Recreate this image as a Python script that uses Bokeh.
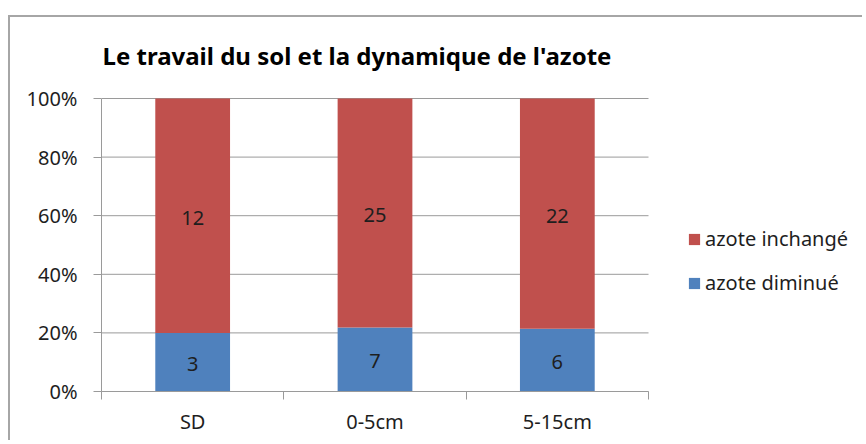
from bokeh.plotting import figure
from bokeh.models import (ColumnDataSource, FixedTicker, NumeralTickFormatter, Legend,
                          LegendItem, Range1d, Label)
from bokeh.core.properties import value
from bokeh.embed import file_html
from bokeh.resources import INLINE

# ---- data ----
categories = ["SD", "0-5cm", "5-15cm"]
azote_diminue = [3, 7, 6]
azote_inchange = [12, 25, 22]
series_names = ["azote diminué", "azote inchangé"]
y_ticks = [0, 0.2, 0.4, 0.6, 0.8, 1.0]
title_text = "Le travail du sol et la dynamique de l'azote"

RED = "#C0504D"
BLUE = "#4F81BD"
GRID = "#9a9a9a"
TXT = "#1e1e1e"
FONT = "Noto Sans"

# layout (pixels)
W, H = 854, 425
BL, BB = 91, 51            # left / bottom borders
PLOT_W, PLOT_H = 547, 293  # size of the category/percent area
FRAME_W, FRAME_H = W - BL, H - BB

n = len(categories)
xs = [i + 0.5 for i in range(n)]
tot = [a + b for a, b in zip(azote_diminue, azote_inchange)]
dim_f = [a / t for a, t in zip(azote_diminue, tot)]
inc_f = [b / t for b, t in zip(azote_inchange, tot)]

src = ColumnDataSource(dict(x=xs, dim=dim_f, inc=inc_f))

p = figure(width=W, height=H, output_backend="svg", toolbar_location=None,
           x_range=Range1d(0, n * FRAME_W / PLOT_W),
           y_range=Range1d(0, FRAME_H / PLOT_H),
           min_border_left=BL, min_border_right=0, min_border_top=0,
           min_border_bottom=BB, title_location=None)
p.margin = (15, 0, 0, 8)
p.styles = {"border-top": "2px solid #a6a6a6", "border-left": "2px solid #a6a6a6"}
p.outline_line_color = None
p.background_fill_color = "white"
p.border_fill_color = "white"

# horizontal gridlines over the category area
p.segment(x0=[0] * len(y_ticks), x1=[n] * len(y_ticks), y0=y_ticks, y1=y_ticks,
          line_color=GRID, line_width=1)

rs = p.vbar_stack(["dim", "inc"], x="x", width=0.41, source=src,
                  color=[BLUE, RED], line_color=None)

# data labels
lab_src = ColumnDataSource(dict(
    x=xs + xs,
    y=[d / 2 for d in dim_f] + [d + i / 2 for d, i in zip(dim_f, inc_f)],
    t=[str(v) for v in azote_diminue] + [str(v) for v in azote_inchange],
))
p.text(x="x", y="y", text="t", source=lab_src, text_align="center",
       text_baseline="middle", text_font=value(FONT), text_font_size="20px",
       text_color=TXT, y_offset=2)

# y axis
p.yaxis.bounds = (0, 1)
p.yaxis.ticker = FixedTicker(ticks=y_ticks)
p.yaxis.formatter = NumeralTickFormatter(format="0%")
p.yaxis.major_tick_out = 8
p.yaxis.major_tick_in = 0
p.yaxis.minor_tick_out = 0
p.yaxis.minor_tick_in = 0
p.yaxis.axis_line_color = GRID
p.yaxis.major_tick_line_color = GRID
p.yaxis.major_label_text_font = FONT
p.yaxis.major_label_text_font_size = "20px"
p.yaxis.major_label_text_color = TXT
p.yaxis.major_label_standoff = 16

# x axis: ticks at category boundaries (minor), labels at centers
p.xaxis.bounds = (0, n)
p.xaxis.ticker = FixedTicker(ticks=xs, minor_ticks=list(range(n + 1)))
p.xaxis.major_label_overrides = {x: c for x, c in zip(xs, categories)}
p.xaxis.major_tick_out = 0
p.xaxis.major_tick_in = 0
p.xaxis.minor_tick_out = 8
p.xaxis.minor_tick_in = 0
p.xaxis.minor_tick_line_color = GRID
p.xaxis.axis_line_color = GRID
p.xaxis.major_label_text_font = FONT
p.xaxis.major_label_text_font_size = "20px"
p.xaxis.major_label_text_color = TXT
p.xaxis.major_label_standoff = 8

p.xgrid.grid_line_color = None
p.ygrid.grid_line_color = None

# legend (to the right of the category area)
legend = Legend(items=[LegendItem(label=series_names[1], renderers=[rs[1]]),
                       LegendItem(label=series_names[0], renderers=[rs[0]])],
                location=(PLOT_W + 39, 95), padding=0, margin=0, spacing=17,
                glyph_width=14, glyph_height=14, label_standoff=4, label_height=24,
                label_text_font=FONT, label_text_font_size="20px",
                label_text_color=TXT, border_line_color=None,
                background_fill_alpha=0)
p.add_layout(legend, "center")

# title
p.add_layout(Label(x=1, y=PLOT_H + 43, x_units="screen", y_units="screen",
                   text=title_text, text_font=FONT, text_font_size="24px",
                   text_font_style="bold", text_color="#000000",
                   text_baseline="alphabetic", text_align="left"))

open("out.html", "w").write(file_html(p, INLINE))
